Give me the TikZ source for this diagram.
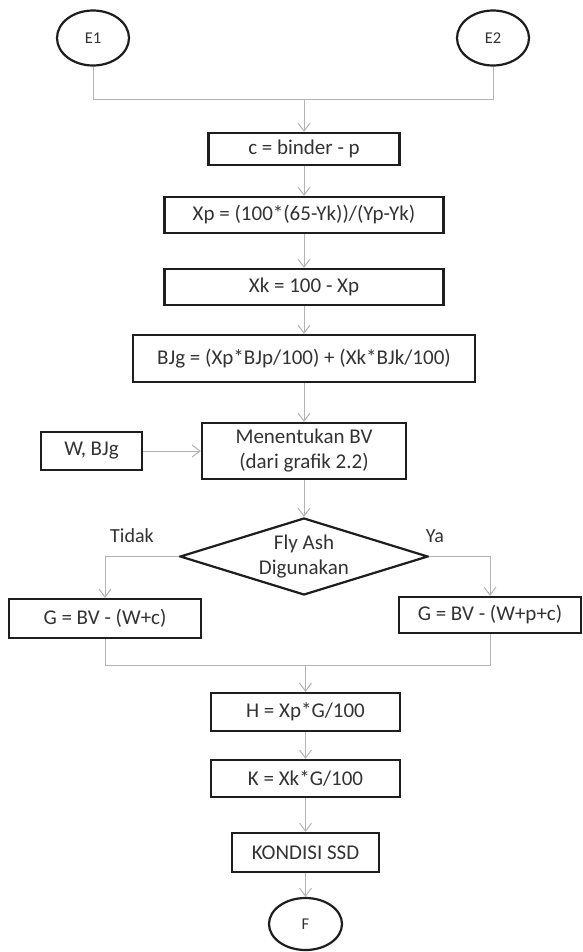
\documentclass[tikz,border=0pt]{standalone}
\usepackage{fontspec}
\setmainfont{Carlito}
\usetikzlibrary{shapes.geometric,arrows.meta}
\definecolor{txt}{HTML}{333333}
\definecolor{ln}{HTML}{B4B4B4}
\definecolor{bd}{HTML}{1E1E1E}
\begin{document}
\begin{tikzpicture}[x=1pt,y=-1pt,
  box/.style={draw=bd, line width=2.2pt, rectangle, inner sep=0pt, text=txt,
    font=\fontsize{21}{25}\selectfont, align=center},
  circ/.style={draw=bd, line width=2.2pt, ellipse, inner sep=0pt, text=txt,
    font=\fontsize{16.5}{19}\selectfont},
  dec/.style={draw=bd, line width=2.2pt, diamond, aspect=3.2, inner sep=0pt, text=txt,
    font=\fontsize{21}{25}\selectfont, align=center},
  conn/.style={draw=ln, line width=1pt},
  arr/.style={conn, -{Straight Barb[length=8pt,width=12pt,line width=1pt]}},
  lbl/.style={text=txt, font=\fontsize{20}{24}\selectfont}]
\useasboundingbox (0,0) rectangle (582,952);
\fill[white] (0,0) rectangle (582,952);

\node[circ, minimum width=72pt, minimum height=55pt] (e1) at (93,38) {E1};
\node[circ, minimum width=72pt, minimum height=55pt] (e2) at (493,38) {E2};
\coordinate (j1) at (304,100);
\node[box, minimum width=191pt, minimum height=32pt] (c) at (304,149) {c = binder - p};
\node[box, minimum width=279pt, minimum height=36pt] (xp) at (304,215) {Xp = (100*(65-Yk))/(Yp-Yk)};
\node[box, minimum width=279pt, minimum height=36pt] (xk) at (304,287) {Xk = 100 - Xp};
\node[box, minimum width=342pt, minimum height=47pt] (bjg) at (304,358.5) {BJg = (Xp*BJp/100) + (Xk*BJk/100)};
\node[box, minimum width=204pt, minimum height=56pt] (bv) at (304,451) {Menentukan BV\\(dari grafik 2.2)};
\node[box, minimum width=101pt, minimum height=38pt] (wb) at (91.5,451) {W, BJg};
\node[dec, minimum width=248pt, minimum height=77pt] (dia) at (304,556.5) {Fly Ash\\Digunakan};
\node[lbl] (tidak) at (132,536) {Tidak};
\node[lbl] (ya) at (435,536) {Ya};
\node[box, minimum width=192pt, minimum height=39pt] (gl) at (105,618.5) {G = BV - (W+c)};
\node[box, minimum width=182pt, minimum height=36pt] (gr) at (490,615) {G = BV - (W+p+c)};
\coordinate (j2) at (305.5,665);
\node[box, minimum width=189pt, minimum height=38pt] (h) at (305.5,712) {H = Xp*G/100};
\node[box, minimum width=189pt, minimum height=37pt] (k) at (305.5,778.5) {K = Xk*G/100};
\node[box, minimum width=147pt, minimum height=39pt] (ssd) at (305.5,852.5) {KONDISI SSD};
\node[circ, minimum width=73pt, minimum height=52pt] (f) at (305.5,924) {F};

\draw[conn] (e1.south) -- (e1 |- j1) -- (e2 |- j1) -- (e2.south);
\draw[arr] (j1) -- (c.north);
\draw[arr] (c) -- (xp);
\draw[arr] (xp) -- (xk);
\draw[arr] (xk) -- (bjg);
\draw[arr] (bjg) -- (bv);
\draw[arr] (wb) -- (bv);
\draw[arr] (bv) -- (dia);
\draw[arr] (dia.west) -| (gl.north);
\draw[arr] (dia.east) -| (gr.north);
\draw[conn] (gl.south) -- (gl |- j2) -- (gr |- j2) -- (gr.south);
\draw[arr] (j2) -- (h.north);
\draw[arr] (h) -- (k);
\draw[arr] (k) -- (ssd);
\draw[arr] (ssd) -- (f);
\end{tikzpicture}
\end{document}
